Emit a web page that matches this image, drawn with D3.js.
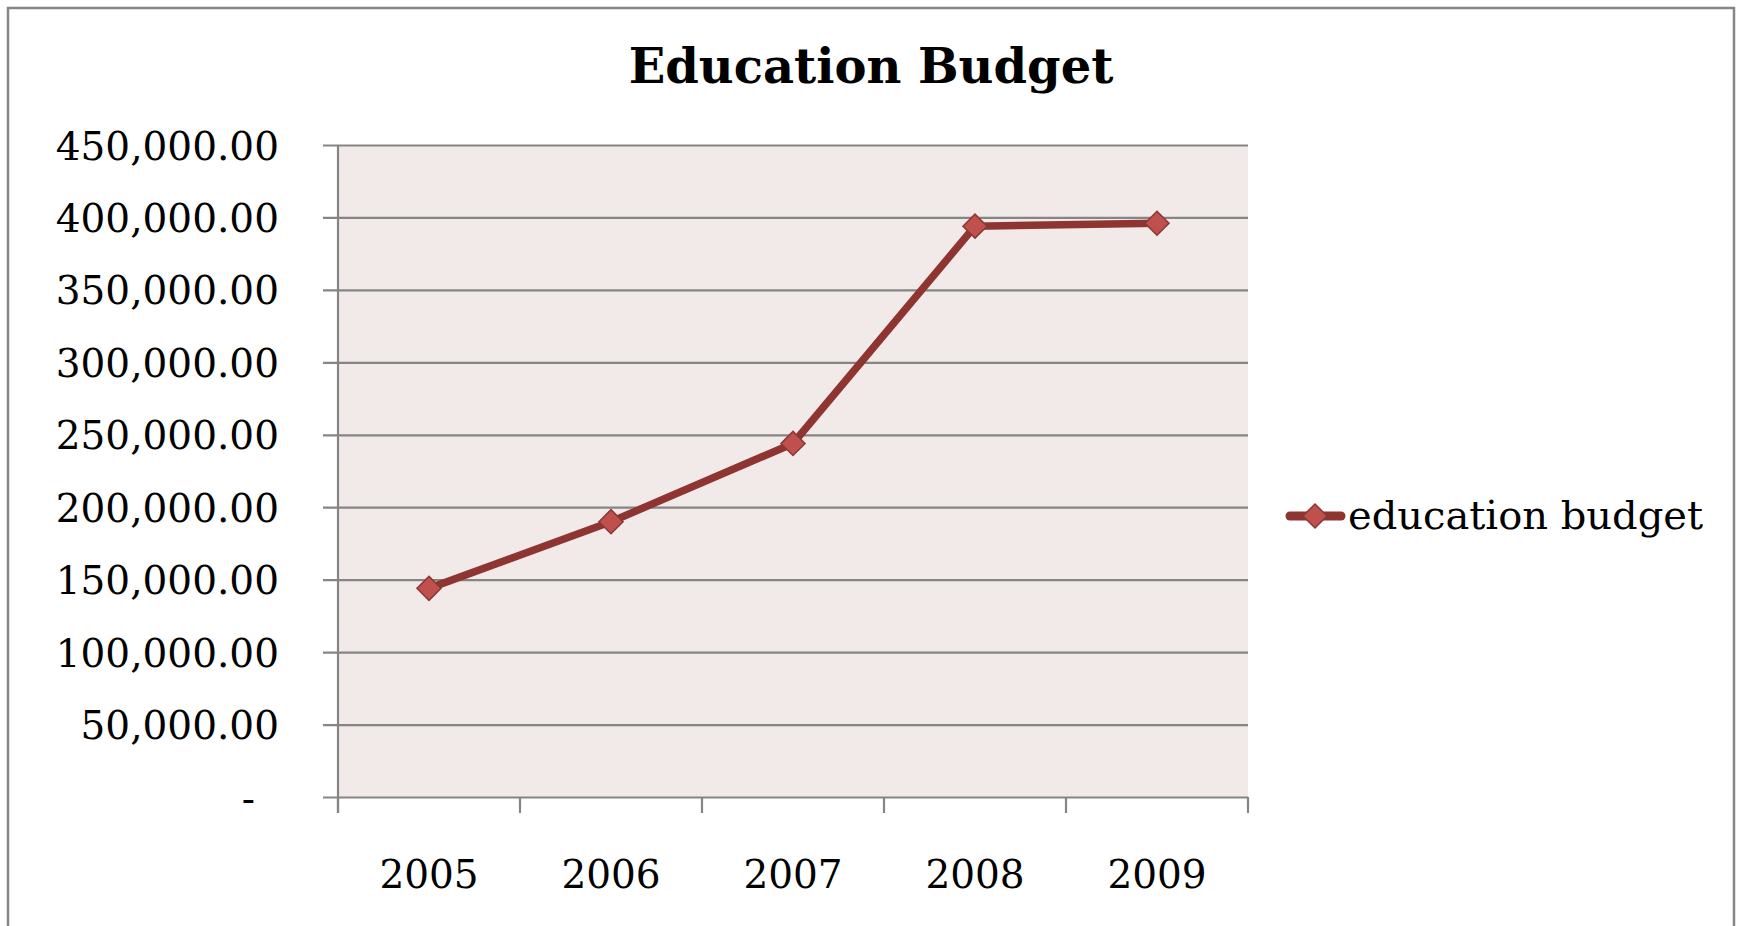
<!DOCTYPE html>
<html>
<head>
<meta charset="utf-8">
<script src="https://cdn.jsdelivr.net/npm/d3@7"></script>
<style>
  body { margin: 0; background: #fff; }
  text { font-family: "DejaVu Serif", "Liberation Serif", serif; fill: #000; }
</style>
</head>
<body>
<div id="chart"></div>
<script>
// chart data
var years = ["2005", "2006", "2007", "2008", "2009"];
var budget = [144000, 190000, 244000, 394000, 396000];
var yTicks = [0, 50000, 100000, 150000, 200000, 250000, 300000, 350000, 400000, 450000];
var seriesName = "education budget";
var chartTitle = "Education Budget";

var svgWidth = 1741;
var svgHeight = 926;

var plot = { left: 338, right: 1248, top: 145, bottom: 797 };

var svg = d3.select("#chart")
  .append("svg")
  .attr("width", svgWidth)
  .attr("height", svgHeight);

// outer chart frame (bottom edge runs off the page)
svg.append("rect")
  .attr("x", 8)
  .attr("y", 8)
  .attr("width", 1726)
  .attr("height", 940)
  .attr("fill", "#fff")
  .attr("stroke", "#868686")
  .attr("stroke-width", 2.5);

// scales
var x = d3.scaleBand()
  .domain(years)
  .range([plot.left, plot.right])
  .padding(0);

var y = d3.scaleLinear()
  .domain([0, 450000])
  .range([plot.bottom, plot.top]);

// plot area background
svg.append("rect")
  .attr("x", plot.left)
  .attr("y", plot.top)
  .attr("width", plot.right - plot.left)
  .attr("height", plot.bottom - plot.top)
  .attr("fill", "#f2e9e9");

// y axis with gridlines that also stick out to the left as ticks
var fmt = d3.format(",.2f");
var yAxis = d3.axisLeft(y)
  .tickValues(yTicks)
  .tickSize(-(plot.right - plot.left + 15))
  .tickPadding(44)
  .tickFormat(d => d === 0 ? "-" : fmt(d));

var yGroup = svg.append("g")
  .attr("transform", `translate(${plot.left - 15}, 0)`)
  .call(yAxis);

yGroup.select(".domain").remove();
yGroup.selectAll(".tick line")
  .attr("stroke", "#858585")
  .attr("stroke-width", 2.2);
yGroup.selectAll(".tick text")
  .attr("font-size", "39px")
  .attr("font-family", "DejaVu Serif, serif")
  .attr("dy", "0.36em")
  .attr("dx", d => d === 0 ? -24 : 0);

// vertical axis line
svg.append("line")
  .attr("x1", plot.left).attr("x2", plot.left)
  .attr("y1", plot.top).attr("y2", plot.bottom + 16)
  .attr("stroke", "#858585")
  .attr("stroke-width", 2.2);

// x axis labels
var xAxis = d3.axisBottom(x).tickSize(0);
var xGroup = svg.append("g")
  .attr("transform", `translate(0, ${plot.bottom})`)
  .call(xAxis);

xGroup.select(".domain").remove();
xGroup.selectAll(".tick text")
  .attr("font-size", "39px")
  .attr("font-family", "DejaVu Serif, serif")
  .attr("y", 91)
  .attr("dy", 0);

// x tick marks at category boundaries
var edges = years.map(d => x(d)).concat([x.range()[1]]);
svg.selectAll(".xedge")
  .data(edges)
  .enter()
  .append("line")
  .attr("class", "xedge")
  .attr("x1", d => d).attr("x2", d => d)
  .attr("y1", plot.bottom).attr("y2", plot.bottom + 16)
  .attr("stroke", "#858585")
  .attr("stroke-width", 2.2);

// series line
var points = years.map((d, i) => ({ year: d, value: budget[i] }));

var line = d3.line()
  .x(d => x(d.year) + x.bandwidth() / 2)
  .y(d => y(d.value));

svg.append("path")
  .datum(points)
  .attr("d", line)
  .attr("fill", "none")
  .attr("stroke", "#8e3532")
  .attr("stroke-width", 7.5)
  .attr("stroke-linejoin", "round");

// diamond markers
var diamond = d3.symbol().type(d3.symbolSquare).size(290);

svg.selectAll(".marker")
  .data(points)
  .enter()
  .append("path")
  .attr("class", "marker")
  .attr("d", diamond)
  .attr("transform", d => `translate(${x(d.year) + x.bandwidth() / 2}, ${y(d.value)}) rotate(45)`)
  .attr("fill", "#c0504d")
  .attr("stroke", "#8b3836")
  .attr("stroke-width", 1.5);

// title
svg.append("text")
  .attr("x", 871)
  .attr("y", 83)
  .attr("text-anchor", "middle")
  .attr("font-size", "48px")
  .attr("font-weight", "bold")
  .text(chartTitle);

// legend
var legend = svg.append("g");

legend.append("line")
  .attr("x1", 1290).attr("x2", 1341)
  .attr("y1", 516).attr("y2", 516)
  .attr("stroke", "#8e3532")
  .attr("stroke-width", 9)
  .attr("stroke-linecap", "round");

legend.append("path")
  .attr("d", diamond)
  .attr("transform", "translate(1315, 516) rotate(45)")
  .attr("fill", "#c0504d")
  .attr("stroke", "#8b3836")
  .attr("stroke-width", 1.5);

legend.append("text")
  .attr("x", 1348)
  .attr("y", 529)
  .attr("font-size", "40px")
  .text(seriesName);
</script>
</body>
</html>
